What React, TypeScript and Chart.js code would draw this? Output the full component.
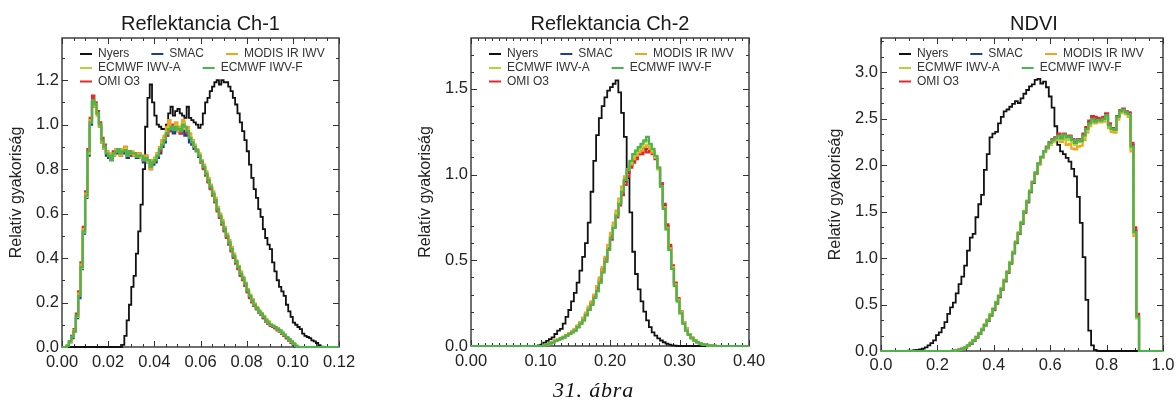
import React, { useEffect, useRef } from 'react';
import { Chart, registerables } from 'chart.js';

Chart.register(...registerables);

const FONT = '"Liberation Sans", Arial, Helvetica, sans-serif';
Chart.defaults.font.family = FONT;
Chart.defaults.color = '#222';

const SERIES_NAMES = ['Nyers', 'SMAC', 'MODIS IR IWV', 'ECMWF IWV-A', 'ECMWF IWV-F', 'OMI O3'];
const SERIES_COLORS = ['#111111', '#1f3c9c', '#f5a31a', '#b4d334', '#4cb44c', '#e8262b'];
const SERIES_ORDER = [6, 5, 3, 2, 1, 4];
const SERIES_WIDTH = [1.8, 2.2, 2.2, 2.2, 2.2, 2.2];
const LEGEND_ROWS = [[0, 1, 2], [3, 4], [5]];
const Y_TITLE = 'Relatív gyakoriság';
const CAPTION = '31. ábra';

// ---------- Reflektancia Ch-1 (bins of 0.001 from 0) ----------
const ch1Start = 0;
const ch1Bin = 0.001;
const ch1Nyers = [
  0, 0, 0, 0, 0, 0, 0, 0, 0, 0,
  0, 0, 0, 0, 0, 0, 0, 0, 0, 0,
  0, 0, 0, 0, 0, 0, 0, 0.01, 0.05, 0.12,
  0.19, 0.27, 0.32, 0.42, 0.52, 0.64, 0.8, 0.99, 1.12, 1.18,
  1.1, 1.04, 1.0, 0.99, 0.98, 0.98, 1.0, 1.05, 1.08, 1.04,
  1.06, 1.07, 1.05, 1.04, 1.03, 1.08, 1.03, 1.02, 1.01, 1.0,
  0.985, 1.0, 1.05, 1.1, 1.12, 1.15, 1.17, 1.19, 1.2, 1.18,
  1.2, 1.19, 1.19, 1.17, 1.15, 1.12, 1.09, 1.05, 1.01, 0.97,
  0.93, 0.88, 0.82, 0.76, 0.71, 0.67, 0.62, 0.585, 0.53, 0.49,
  0.46, 0.44, 0.38, 0.34, 0.3, 0.27, 0.25, 0.23, 0.19, 0.16,
  0.135, 0.11, 0.1, 0.09, 0.08, 0.06, 0.05, 0.045, 0.04, 0.03,
  0.025, 0.018, 0.008, 0.002, 0, 0, 0, 0, 0, 0,
];
const ch1Smac = [
  0, 0, 0, 0.005, 0.02, 0.04, 0.07, 0.13, 0.22, 0.35,
  0.51, 0.67, 0.86, 1.0, 1.1, 1.08, 1.05, 0.99, 0.92, 0.89,
  0.86, 0.85, 0.84, 0.86, 0.87, 0.88, 0.86, 0.87, 0.88, 0.85,
  0.87, 0.86, 0.86, 0.85, 0.85, 0.85, 0.83, 0.84, 0.83, 0.8,
  0.82, 0.83, 0.85, 0.87, 0.9, 0.92, 0.95, 0.97, 0.97, 0.96,
  0.98, 0.97, 0.96, 0.98, 0.95, 0.96, 0.92, 0.91, 0.89, 0.88,
  0.855, 0.83, 0.805, 0.775, 0.745, 0.715, 0.685, 0.655, 0.615, 0.585,
  0.555, 0.525, 0.495, 0.465, 0.435, 0.405, 0.38, 0.355, 0.325, 0.305,
  0.28, 0.25, 0.225, 0.205, 0.185, 0.17, 0.155, 0.145, 0.13, 0.115,
  0.105, 0.1, 0.09, 0.085, 0.08, 0.07, 0.06, 0.05, 0.04, 0.03,
  0.02, 0.01, 0.003, 0, 0, 0, 0, 0, 0, 0,
  0, 0, 0, 0, 0, 0, 0, 0, 0, 0,
];
const ch1Modis = [
  0, 0, 0, 0.005, 0.02, 0.045, 0.075, 0.14, 0.24, 0.37,
  0.53, 0.69, 0.87, 1.02, 1.1, 1.08, 1.04, 0.99, 0.92, 0.89,
  0.88, 0.87, 0.85, 0.86, 0.89, 0.88, 0.86, 0.89, 0.9, 0.87,
  0.87, 0.88, 0.86, 0.86, 0.87, 0.85, 0.85, 0.86, 0.83, 0.8,
  0.84, 0.85, 0.87, 0.9, 0.93, 0.95, 0.99, 1.02, 0.98, 0.99,
  1.01, 0.97, 0.99, 1.02, 0.98, 0.99, 0.96, 0.93, 0.91, 0.89,
  0.87, 0.84, 0.82, 0.79, 0.76, 0.73, 0.7, 0.67, 0.63, 0.6,
  0.57, 0.54, 0.51, 0.48, 0.45, 0.42, 0.39, 0.365, 0.34, 0.315,
  0.29, 0.26, 0.235, 0.215, 0.195, 0.18, 0.165, 0.15, 0.14, 0.125,
  0.115, 0.1, 0.095, 0.09, 0.085, 0.075, 0.065, 0.055, 0.045, 0.035,
  0.025, 0.015, 0.005, 0, 0, 0, 0, 0, 0, 0,
  0, 0, 0, 0, 0, 0, 0, 0, 0, 0,
];
const ch1IwvA = [
  0, 0, 0, 0.005, 0.02, 0.045, 0.07, 0.135, 0.23, 0.355,
  0.515, 0.675, 0.87, 1.01, 1.1, 1.09, 1.05, 1.0, 0.93, 0.9,
  0.875, 0.86, 0.845, 0.87, 0.88, 0.885, 0.87, 0.88, 0.89, 0.86,
  0.875, 0.87, 0.865, 0.86, 0.86, 0.855, 0.84, 0.85, 0.835, 0.81,
  0.83, 0.845, 0.865, 0.89, 0.915, 0.935, 0.965, 0.99, 0.985, 0.98,
  0.995, 0.98, 0.975, 1.005, 0.985, 0.975, 0.945, 0.925, 0.905, 0.885,
  0.865, 0.835, 0.81, 0.78, 0.75, 0.72, 0.69, 0.66, 0.62, 0.59,
  0.56, 0.53, 0.5, 0.47, 0.44, 0.41, 0.385, 0.36, 0.33, 0.31,
  0.285, 0.255, 0.23, 0.21, 0.19, 0.175, 0.16, 0.15, 0.135, 0.12,
  0.11, 0.1, 0.095, 0.09, 0.08, 0.075, 0.065, 0.055, 0.045, 0.035,
  0.025, 0.015, 0.005, 0, 0, 0, 0, 0, 0, 0,
  0, 0, 0, 0, 0, 0, 0, 0, 0, 0,
];
const ch1IwvF = [
  0, 0, 0, 0.005, 0.025, 0.045, 0.07, 0.14, 0.23, 0.36,
  0.52, 0.68, 0.88, 1.01, 1.11, 1.09, 1.05, 1.0, 0.93, 0.9,
  0.87, 0.86, 0.84, 0.87, 0.88, 0.89, 0.87, 0.88, 0.885, 0.86,
  0.88, 0.87, 0.87, 0.855, 0.86, 0.86, 0.84, 0.85, 0.84, 0.81,
  0.83, 0.84, 0.86, 0.89, 0.91, 0.93, 0.96, 0.98, 0.99, 0.975,
  0.99, 0.98, 0.97, 1.0, 0.99, 0.97, 0.94, 0.92, 0.9, 0.885,
  0.86, 0.835, 0.81, 0.78, 0.75, 0.72, 0.69, 0.66, 0.62, 0.59,
  0.56, 0.53, 0.5, 0.47, 0.44, 0.41, 0.385, 0.36, 0.33, 0.31,
  0.285, 0.255, 0.23, 0.21, 0.19, 0.175, 0.16, 0.15, 0.135, 0.12,
  0.11, 0.1, 0.095, 0.09, 0.08, 0.075, 0.065, 0.055, 0.045, 0.035,
  0.025, 0.015, 0.005, 0, 0, 0, 0, 0, 0, 0,
  0, 0, 0, 0, 0, 0, 0, 0, 0, 0,
];
const ch1Omi = [
  0, 0, 0, 0.005, 0.025, 0.05, 0.08, 0.15, 0.25, 0.38,
  0.54, 0.7, 0.89, 1.03, 1.13, 1.1, 1.06, 1.01, 0.94, 0.91,
  0.88, 0.86, 0.85, 0.88, 0.89, 0.88, 0.87, 0.89, 0.9, 0.86,
  0.88, 0.86, 0.87, 0.86, 0.87, 0.85, 0.84, 0.86, 0.84, 0.82,
  0.83, 0.85, 0.87, 0.88, 0.92, 0.94, 0.95, 0.97, 1.0, 0.98,
  0.98, 0.99, 0.96, 1.01, 0.98, 0.96, 0.94, 0.93, 0.9, 0.88,
  0.86, 0.83, 0.8, 0.77, 0.74, 0.71, 0.68, 0.65, 0.61, 0.58,
  0.55, 0.52, 0.49, 0.46, 0.43, 0.4, 0.375, 0.35, 0.32, 0.3,
  0.275, 0.245, 0.22, 0.2, 0.185, 0.17, 0.155, 0.145, 0.13, 0.115,
  0.105, 0.095, 0.09, 0.085, 0.075, 0.07, 0.06, 0.05, 0.04, 0.03,
  0.02, 0.012, 0.004, 0, 0, 0, 0, 0, 0, 0,
  0, 0, 0, 0, 0, 0, 0, 0, 0, 0,
];

// ---------- Reflektancia Ch-2 (bins of 0.004 from 0) ----------
const ch2Start = 0;
const ch2Bin = 0.004;
const ch2Nyers = [
  0, 0, 0, 0, 0, 0, 0, 0, 0, 0,
  0, 0, 0, 0, 0, 0, 0, 0, 0, 0,
  0, 0, 0, 0, 0, 0.003, 0.008, 0.02, 0.03, 0.04,
  0.05, 0.07, 0.09, 0.1, 0.13, 0.17, 0.21, 0.26, 0.31, 0.37,
  0.44, 0.52, 0.6, 0.72, 0.9, 1.08, 1.23, 1.33, 1.4, 1.45,
  1.49, 1.51, 1.53, 1.55, 1.48, 1.36, 1.22, 0.98, 0.78, 0.55,
  0.42, 0.33, 0.26, 0.2, 0.15, 0.11, 0.08, 0.06, 0.045, 0.032,
  0.022, 0.014, 0.008, 0.004, 0.002, 0, 0, 0, 0, 0,
  0, 0, 0, 0, 0, 0, 0, 0, 0, 0,
  0, 0, 0, 0, 0, 0, 0, 0, 0, 0,
];
const ch2Smac = [
  0, 0, 0, 0, 0, 0, 0, 0, 0, 0,
  0, 0, 0, 0, 0, 0, 0, 0, 0, 0,
  0, 0, 0, 0, 0, 0, 0, 0.005, 0.01, 0.016,
  0.022, 0.03, 0.036, 0.046, 0.052, 0.062, 0.072, 0.082, 0.095, 0.115,
  0.135, 0.16, 0.19, 0.22, 0.25, 0.29, 0.34, 0.39, 0.45, 0.51,
  0.57, 0.64, 0.7, 0.77, 0.84, 0.9, 0.96, 1.01, 1.05, 1.08,
  1.1, 1.12, 1.13, 1.15, 1.15, 1.15, 1.13, 1.1, 1.04, 0.94,
  0.82, 0.7, 0.58, 0.46, 0.36, 0.27, 0.2, 0.14, 0.1, 0.07,
  0.047, 0.033, 0.023, 0.015, 0.01, 0.006, 0.004, 0.002, 0.001, 0,
  0, 0, 0, 0, 0, 0, 0, 0, 0, 0,
];
const ch2Modis = [
  0, 0, 0, 0, 0, 0, 0, 0, 0, 0,
  0, 0, 0, 0, 0, 0, 0, 0, 0, 0,
  0, 0, 0, 0, 0, 0, 0, 0.006, 0.01, 0.018,
  0.025, 0.032, 0.04, 0.048, 0.055, 0.065, 0.075, 0.085, 0.1, 0.12,
  0.14, 0.165, 0.195, 0.23, 0.26, 0.3, 0.35, 0.4, 0.46, 0.52,
  0.59, 0.66, 0.72, 0.79, 0.86, 0.93, 0.99, 1.03, 1.06, 1.09,
  1.11, 1.13, 1.14, 1.16, 1.17, 1.15, 1.13, 1.1, 1.03, 0.93,
  0.81, 0.69, 0.57, 0.46, 0.36, 0.27, 0.2, 0.14, 0.1, 0.07,
  0.05, 0.035, 0.024, 0.016, 0.011, 0.007, 0.004, 0.002, 0.001, 0,
  0, 0, 0, 0, 0, 0, 0, 0, 0, 0,
];
const ch2IwvA = [
  0, 0, 0, 0, 0, 0, 0, 0, 0, 0,
  0, 0, 0, 0, 0, 0, 0, 0, 0, 0,
  0, 0, 0, 0, 0, 0, 0, 0.005, 0.01, 0.015,
  0.02, 0.03, 0.035, 0.045, 0.05, 0.06, 0.07, 0.08, 0.09, 0.11,
  0.13, 0.15, 0.18, 0.21, 0.24, 0.28, 0.32, 0.37, 0.43, 0.49,
  0.56, 0.63, 0.7, 0.77, 0.84, 0.91, 0.97, 1.03, 1.07, 1.11,
  1.13, 1.15, 1.17, 1.19, 1.2, 1.17, 1.14, 1.1, 1.04, 0.93,
  0.8, 0.68, 0.56, 0.45, 0.35, 0.26, 0.19, 0.13, 0.09, 0.065,
  0.045, 0.032, 0.022, 0.015, 0.01, 0.006, 0.004, 0.002, 0.001, 0,
  0, 0, 0, 0, 0, 0, 0, 0, 0, 0,
];
const ch2IwvF = [
  0, 0, 0, 0, 0, 0, 0, 0, 0, 0,
  0, 0, 0, 0, 0, 0, 0, 0, 0, 0,
  0, 0, 0, 0, 0, 0, 0, 0.005, 0.01, 0.015,
  0.02, 0.03, 0.035, 0.045, 0.05, 0.06, 0.07, 0.08, 0.09, 0.11,
  0.13, 0.15, 0.18, 0.21, 0.24, 0.28, 0.32, 0.37, 0.43, 0.49,
  0.56, 0.63, 0.69, 0.76, 0.83, 0.9, 0.97, 1.03, 1.08, 1.12,
  1.14, 1.16, 1.18, 1.2, 1.22, 1.18, 1.15, 1.11, 1.04, 0.93,
  0.8, 0.68, 0.56, 0.45, 0.35, 0.26, 0.19, 0.13, 0.09, 0.065,
  0.045, 0.032, 0.022, 0.015, 0.01, 0.006, 0.004, 0.002, 0.001, 0,
  0, 0, 0, 0, 0, 0, 0, 0, 0, 0,
];
const ch2Omi = [
  0, 0, 0, 0, 0, 0, 0, 0, 0, 0,
  0, 0, 0, 0, 0, 0, 0, 0, 0, 0,
  0, 0, 0, 0, 0, 0, 0, 0.005, 0.01, 0.016,
  0.022, 0.03, 0.037, 0.045, 0.052, 0.062, 0.072, 0.082, 0.095, 0.11,
  0.13, 0.155, 0.18, 0.21, 0.245, 0.285, 0.33, 0.38, 0.44, 0.5,
  0.56, 0.62, 0.69, 0.75, 0.82, 0.88, 0.94, 0.99, 1.04, 1.07,
  1.09, 1.12, 1.12, 1.14, 1.13, 1.14, 1.12, 1.09, 1.04, 0.95,
  0.83, 0.71, 0.59, 0.47, 0.37, 0.28, 0.2, 0.14, 0.1, 0.07,
  0.048, 0.034, 0.023, 0.016, 0.01, 0.006, 0.004, 0.002, 0.001, 0,
  0, 0, 0, 0, 0, 0, 0, 0, 0, 0,
];

// ---------- NDVI (bins of 0.01, centred on 0.00, 0.01, ...) ----------
const ndviStart = -0.005;
const ndviBin = 0.01;
const ndviNyers = [
  0, 0, 0, 0, 0, 0, 0, 0, 0, 0,
  0, 0.003, 0.005, 0.008, 0.012, 0.018, 0.025, 0.04, 0.06, 0.085,
  0.115, 0.17, 0.2, 0.25, 0.31, 0.4, 0.47, 0.52, 0.62, 0.72,
  0.8, 0.92, 1.08, 1.22, 1.26, 1.44, 1.58, 1.68, 1.95, 2.12,
  2.3, 2.34, 2.36, 2.45, 2.52, 2.58, 2.6, 2.63, 2.66, 2.69,
  2.67, 2.72, 2.77, 2.81, 2.85, 2.87, 2.92, 2.93, 2.88, 2.9,
  2.84, 2.74, 2.62, 2.42, 2.22, 2.15, 2.12, 2.08, 2.04, 1.96,
  1.88, 1.66, 1.38, 1.01, 0.55, 0.22, 0.06, 0.012, 0.002, 0,
  0, 0, 0, 0, 0, 0, 0, 0, 0, 0,
  0, 0, 0, 0, 0, 0, 0, 0, 0, 0,
  0,
];
const ndviSmac = [
  0, 0, 0, 0, 0, 0, 0, 0, 0, 0,
  0, 0, 0, 0, 0, 0, 0, 0, 0, 0,
  0, 0, 0, 0, 0, 0, 0, 0.004, 0.008, 0.015,
  0.024, 0.038, 0.058, 0.083, 0.112, 0.148, 0.188, 0.228, 0.278, 0.328,
  0.385, 0.445, 0.515, 0.585, 0.665, 0.755, 0.845, 0.945, 1.055, 1.165,
  1.265, 1.375, 1.495, 1.605, 1.715, 1.815, 1.915, 2.015, 2.085, 2.15,
  2.195, 2.245, 2.275, 2.295, 2.33, 2.295, 2.335, 2.305, 2.315, 2.275,
  2.245, 2.275, 2.265, 2.33, 2.4, 2.465, 2.515, 2.49, 2.5, 2.49,
  2.51, 2.55, 2.44, 2.395, 2.39, 2.525, 2.585, 2.605, 2.575, 2.56,
  2.22, 1.3, 0.38, 0, 0, 0, 0, 0, 0, 0,
  0,
];
const ndviModis = [
  0, 0, 0, 0, 0, 0, 0, 0, 0, 0,
  0, 0, 0, 0, 0, 0, 0, 0, 0, 0,
  0, 0, 0, 0, 0, 0, 0, 0.005, 0.01, 0.017,
  0.028, 0.043, 0.064, 0.09, 0.12, 0.155, 0.195, 0.24, 0.29, 0.34,
  0.4, 0.46, 0.53, 0.6, 0.68, 0.77, 0.86, 0.96, 1.07, 1.18,
  1.28, 1.39, 1.51, 1.62, 1.73, 1.82, 1.92, 2.01, 2.08, 2.14,
  2.18, 2.22, 2.25, 2.27, 2.3, 2.25, 2.28, 2.22, 2.23, 2.18,
  2.17, 2.2, 2.21, 2.27, 2.35, 2.42, 2.47, 2.45, 2.47, 2.46,
  2.47, 2.51, 2.4, 2.36, 2.35, 2.49, 2.56, 2.58, 2.55, 2.52,
  2.15, 1.24, 0.35, 0, 0, 0, 0, 0, 0, 0,
  0,
];
const ndviIwvA = [
  0, 0, 0, 0, 0, 0, 0, 0, 0, 0,
  0, 0, 0, 0, 0, 0, 0, 0, 0, 0,
  0, 0, 0, 0, 0, 0, 0, 0.004, 0.008, 0.015,
  0.026, 0.041, 0.061, 0.087, 0.117, 0.152, 0.192, 0.235, 0.285, 0.335,
  0.395, 0.455, 0.525, 0.595, 0.675, 0.765, 0.855, 0.955, 1.065, 1.175,
  1.275, 1.385, 1.505, 1.615, 1.725, 1.82, 1.92, 2.02, 2.09, 2.15,
  2.19, 2.23, 2.26, 2.28, 2.31, 2.27, 2.31, 2.27, 2.28, 2.24,
  2.22, 2.25, 2.25, 2.3, 2.37, 2.44, 2.49, 2.46, 2.48, 2.47,
  2.49, 2.53, 2.42, 2.38, 2.37, 2.51, 2.57, 2.59, 2.56, 2.54,
  2.18, 1.27, 0.36, 0, 0, 0, 0, 0, 0, 0,
  0,
];
const ndviIwvF = [
  0, 0, 0, 0, 0, 0, 0, 0, 0, 0,
  0, 0, 0, 0, 0, 0, 0, 0, 0, 0,
  0, 0, 0, 0, 0, 0, 0, 0.004, 0.008, 0.015,
  0.025, 0.04, 0.06, 0.085, 0.115, 0.15, 0.19, 0.23, 0.28, 0.33,
  0.39, 0.45, 0.52, 0.59, 0.67, 0.76, 0.85, 0.95, 1.06, 1.17,
  1.27, 1.38, 1.5, 1.61, 1.72, 1.82, 1.92, 2.02, 2.09, 2.15,
  2.19, 2.24, 2.27, 2.29, 2.32, 2.29, 2.33, 2.3, 2.31, 2.27,
  2.24, 2.27, 2.26, 2.32, 2.39, 2.45, 2.5, 2.47, 2.49, 2.48,
  2.5, 2.54, 2.43, 2.39, 2.38, 2.52, 2.58, 2.6, 2.57, 2.55,
  2.2, 1.28, 0.37, 0, 0, 0, 0, 0, 0, 0,
  0,
];
const ndviOmi = [
  0, 0, 0, 0, 0, 0, 0, 0, 0, 0,
  0, 0, 0, 0, 0, 0, 0, 0, 0, 0,
  0, 0, 0, 0, 0, 0, 0, 0.004, 0.008, 0.014,
  0.023, 0.037, 0.056, 0.08, 0.11, 0.145, 0.185, 0.225, 0.275, 0.325,
  0.38, 0.44, 0.51, 0.58, 0.66, 0.75, 0.84, 0.94, 1.05, 1.16,
  1.26, 1.37, 1.49, 1.6, 1.71, 1.81, 1.91, 2.01, 2.08, 2.15,
  2.2, 2.25, 2.28, 2.3, 2.34, 2.3, 2.34, 2.31, 2.32, 2.28,
  2.25, 2.28, 2.27, 2.34, 2.41, 2.48, 2.53, 2.52, 2.51, 2.5,
  2.52, 2.56, 2.45, 2.4, 2.4, 2.53, 2.59, 2.61, 2.58, 2.57,
  2.24, 1.33, 0.4, 0, 0, 0, 0, 0, 0, 0,
  0,
];

type PanelCfg = {
  title: string;
  titleDx: number;
  left: number;
  width: number;
  padRight: number;
  xAxisH: number;
  xLabelPad: number;
  xMin: number; xMax: number; xMajor: number; xMinorPer: number; xDec: number;
  yMax: number; yMajor: number; yMinorPer: number; yDec: number;
  binStart: number; binWidth: number;
  series: number[][];
};

const PANELS: PanelCfg[] = [
  {
    title: 'Reflektancia Ch-1', titleDx: 0, left: 0, width: 409, padRight: 70, xAxisH: 53, xLabelPad: 6,
    xMin: 0, xMax: 0.12, xMajor: 0.02, xMinorPer: 4, xDec: 2,
    yMax: 1.389, yMajor: 0.2, yMinorPer: 2, yDec: 1,
    binStart: ch1Start, binWidth: ch1Bin,
    series: [ch1Nyers, ch1Smac, ch1Modis, ch1IwvA, ch1IwvF, ch1Omi],
  },
  {
    title: 'Reflektancia Ch-2', titleDx: 0, left: 409, width: 410, padRight: 70, xAxisH: 54, xLabelPad: 6,
    xMin: 0, xMax: 0.4, xMajor: 0.1, xMinorPer: 10, xDec: 2,
    yMax: 1.797, yMajor: 0.5, yMinorPer: 5, yDec: 1,
    binStart: ch2Start, binWidth: ch2Bin,
    series: [ch2Nyers, ch2Smac, ch2Modis, ch2IwvA, ch2IwvF, ch2Omi],
  },
  {
    title: 'NDVI', titleDx: 12, left: 819, width: 371, padRight: 27, xAxisH: 49, xLabelPad: 5,
    xMin: 0, xMax: 1.0, xMajor: 0.2, xMinorPer: 4, xDec: 1,
    yMax: 3.37, yMajor: 0.5, yMinorPer: 3, yDec: 1,
    binStart: ndviStart, binWidth: ndviBin,
    series: [ndviNyers, ndviSmac, ndviModis, ndviIwvA, ndviIwvF, ndviOmi],
  },
];

const AXIS_COLOR = '#333';

function makePlugin(cfg: PanelCfg) {
  return {
    id: 'frameAndDecor',
    beforeDatasetsDraw(chart: any) {
      const { ctx, chartArea: a } = chart;
      const xs = chart.scales.x;
      const ys = chart.scales.y;
      ctx.save();
      ctx.strokeStyle = AXIS_COLOR;
      ctx.lineWidth = 1.4;
      ctx.strokeRect(a.left, a.top, a.right - a.left, a.bottom - a.top);
      ctx.lineWidth = 1;
      ctx.beginPath();
      const xMinor = cfg.xMajor / cfg.xMinorPer;
      const nx = Math.round((cfg.xMax - cfg.xMin) / xMinor);
      for (let i = 0; i <= nx; i++) {
        const v = cfg.xMin + i * xMinor;
        const len = i % cfg.xMinorPer === 0 ? 6 : 3;
        const px = Math.round(xs.getPixelForValue(v)) + 0.5;
        ctx.moveTo(px, a.bottom); ctx.lineTo(px, a.bottom - len);
        ctx.moveTo(px, a.top); ctx.lineTo(px, a.top + len);
      }
      const yMinor = cfg.yMajor / cfg.yMinorPer;
      const ny = Math.floor(cfg.yMax / yMinor + 1e-6);
      for (let i = 0; i <= ny; i++) {
        const v = i * yMinor;
        const len = i % cfg.yMinorPer === 0 ? 6 : 3;
        const py = Math.round(ys.getPixelForValue(v)) + 0.5;
        ctx.moveTo(a.left, py); ctx.lineTo(a.left + len, py);
        ctx.moveTo(a.right, py); ctx.lineTo(a.right - len, py);
      }
      ctx.stroke();
      ctx.restore();
    },
    afterDraw(chart: any) {
      const { ctx, chartArea: a } = chart;
      ctx.save();
      // title
      ctx.fillStyle = '#1a1a1a';
      ctx.font = `20px ${FONT}`;
      ctx.textAlign = 'center';
      ctx.textBaseline = 'alphabetic';
      ctx.fillText(cfg.title, (a.left + a.right) / 2 + cfg.titleDx, 30);
      // legend
      ctx.font = `12px ${FONT}`;
      ctx.textAlign = 'left';
      ctx.textBaseline = 'middle';
      const rowY = [16, 30, 43.5];
      LEGEND_ROWS.forEach((row, r) => {
        let x = a.left + 18;
        const y = a.top + rowY[r];
        row.forEach((s) => {
          ctx.strokeStyle = SERIES_COLORS[s];
          ctx.lineWidth = 2;
          ctx.beginPath();
          ctx.moveTo(x, y);
          ctx.lineTo(x + 12, y);
          ctx.stroke();
          ctx.fillStyle = '#333';
          ctx.fillText(SERIES_NAMES[s], x + 18, y);
          x += 18 + ctx.measureText(SERIES_NAMES[s]).width + 22;
        });
      });
      ctx.restore();
    },
  };
}

function buildConfig(cfg: PanelCfg): any {
  const datasets = cfg.series.map((vals, s) => {
    const pts = vals.map((v, i) => ({ x: cfg.binStart + i * cfg.binWidth, y: v }));
    pts.push({ x: cfg.binStart + vals.length * cfg.binWidth, y: vals[vals.length - 1] });
    return {
      label: SERIES_NAMES[s],
      data: pts,
      borderColor: SERIES_COLORS[s],
      backgroundColor: SERIES_COLORS[s],
      borderWidth: SERIES_WIDTH[s],
      pointRadius: 0,
      stepped: 'after',
      fill: false,
      order: SERIES_ORDER[s],
      clip: { left: 0, right: 0, top: 4, bottom: 4 },
    };
  });
  const tickFont = { size: 16.5, family: FONT };
  return {
    type: 'line',
    data: { datasets },
    options: {
      animation: false,
      responsive: false,
      events: [],
      layout: { padding: { left: 0, right: cfg.padRight, top: 38, bottom: 0 } },
      plugins: { legend: { display: false }, title: { display: false }, tooltip: { enabled: false } },
      scales: {
        x: {
          type: 'linear',
          min: cfg.xMin,
          max: cfg.xMax,
          grid: { display: false, drawTicks: false },
          border: { display: false },
          ticks: {
            stepSize: cfg.xMajor,
            includeBounds: false,
            autoSkip: false,
            maxRotation: 0,
            padding: cfg.xLabelPad,
            font: tickFont,
            color: '#222',
            callback: (v: any) => Number(v).toFixed(cfg.xDec),
          },
          afterFit: (s: any) => { s.height = cfg.xAxisH; },
        },
        y: {
          type: 'linear',
          min: 0,
          max: cfg.yMax,
          grid: { display: false, drawTicks: false },
          border: { display: false },
          ticks: {
            stepSize: cfg.yMajor,
            includeBounds: false,
            autoSkip: false,
            padding: 3,
            font: tickFont,
            color: '#222',
            callback: (v: any) => Number(v).toFixed(cfg.yDec),
          },
          title: {
            display: true,
            text: Y_TITLE,
            font: { size: 16, family: FONT },
            color: '#222',
            padding: { top: 6.5, bottom: 0 },
          },
          afterFit: (s: any) => { s.width = 62; },
        },
      },
    },
    plugins: [makePlugin(cfg)],
  };
}

function Panel({ cfg }: { cfg: PanelCfg }) {
  const ref = useRef<HTMLCanvasElement>(null);
  useEffect(() => {
    const chart = new Chart(ref.current as HTMLCanvasElement, buildConfig(cfg));
    return () => chart.destroy();
  }, [cfg]);
  return (
    <canvas
      ref={ref}
      width={cfg.width}
      height={400}
      style={{ position: 'absolute', left: cfg.left, top: 0, width: cfg.width, height: 400 }}
    />
  );
}

export default function App() {
  return (
    <div
      style={{
        position: 'fixed', left: 0, top: 0, width: 1176, height: 400,
        overflow: 'hidden', background: '#fff',
      }}
    >
      {PANELS.map((p) => (
        <Panel key={p.title} cfg={p} />
      ))}
      <div
        style={{
          position: 'absolute', left: 553, top: 379, whiteSpace: 'nowrap',
          fontFamily: '"Liberation Serif", "Times New Roman", serif', fontStyle: 'italic',
          fontSize: 22, lineHeight: '22px', letterSpacing: 0.8, color: '#111',
        }}
      >
        {CAPTION}
      </div>
    </div>
  );
}
